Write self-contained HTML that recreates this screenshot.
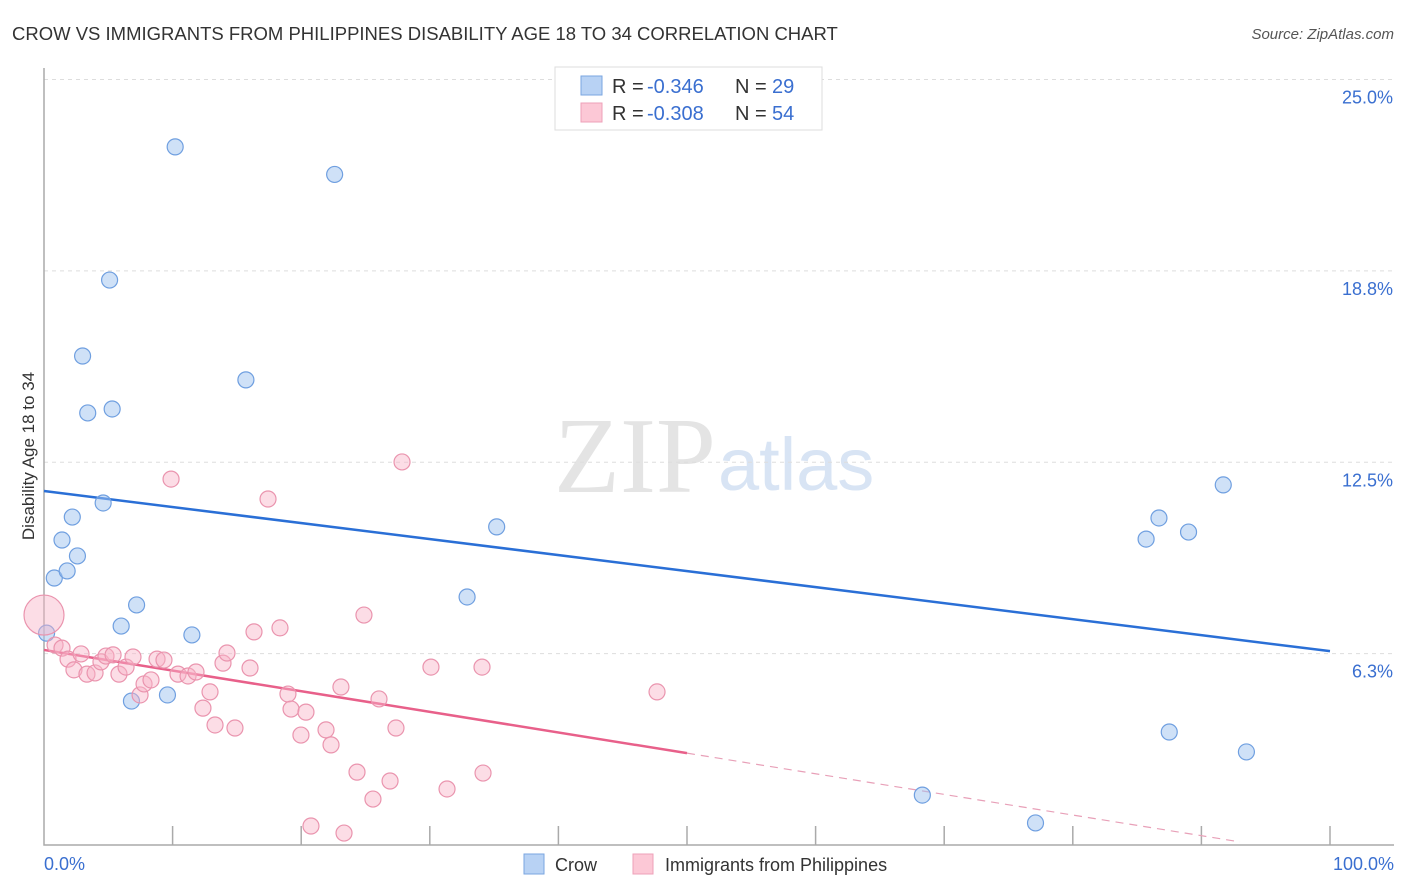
<!DOCTYPE html>
<html><head><meta charset="utf-8"><style>
body{margin:0;background:#fff;font-family:"Liberation Sans",sans-serif}
#wrap{position:relative;width:1406px;height:892px;overflow:hidden}
</style></head><body>
<div id="wrap">
<svg id="svg" width="1406" height="892" xmlns="http://www.w3.org/2000/svg">
<text x="12" y="40" font-size="18.5" fill="#333">CROW VS IMMIGRANTS FROM PHILIPPINES DISABILITY AGE 18 TO 34 CORRELATION CHART</text>
<text x="1394" y="39" font-size="15" fill="#555" font-style="italic" text-anchor="end">Source: ZipAtlas.com</text>
<text x="0" y="0" transform="translate(34,456) rotate(-90)" font-size="17" fill="#333" text-anchor="middle">Disability Age 18 to 34</text>
<text x="716" y="492" font-size="108" fill="#e4e4e4" text-anchor="end" font-family="Liberation Serif,serif">ZIP</text>
<text x="718" y="490" font-size="74" fill="#d8e4f4">atlas</text>
<g id="grid"></g><g id="axes"></g><g id="lines"></g><g id="pts"></g>
<g>
<rect x="555" y="67" width="267" height="63" fill="#fff" stroke="#ddd"/>
<rect x="581" y="76" width="21" height="19" fill="#b8d2f4" stroke="#7aa6e0"/>
<rect x="581" y="103" width="21" height="19" fill="#fcc8d6" stroke="#eea0b8"/>
<g font-size="20">
<text x="612" y="93" fill="#333">R =</text><text x="647" y="93" fill="#3a6fd0">-0.346</text>
<text x="735" y="93" fill="#333">N =</text><text x="772" y="93" fill="#3a6fd0">29</text></g>
<g font-size="20">
<text x="612" y="120" fill="#333">R =</text><text x="647" y="120" fill="#3a6fd0">-0.308</text>
<text x="735" y="120" fill="#333">N =</text><text x="772" y="120" fill="#3a6fd0">54</text></g>
</g>
<text x="44" y="870" font-size="18" fill="#3a6fd0">0.0%</text>
<text x="1394" y="870" font-size="18" fill="#3a6fd0" text-anchor="end">100.0%</text>
<g>
<rect x="524" y="854" width="20" height="20" fill="#b8d2f4" stroke="#7aa6e0"/>
<text x="555" y="871" font-size="18" fill="#333">Crow</text>
<rect x="633" y="854" width="20" height="20" fill="#fcc8d6" stroke="#eea0b8"/>
<text x="665" y="871" font-size="18" fill="#333">Immigrants from Philippines</text>
</g>
</svg></div>
<script>
const yTicks=[6.25,12.5,18.75,25];
const yTickLabels=["6.3%","12.5%","18.8%","25.0%"];
const xTicks=[10,20,30,40,50,60,70,80,90,100];
const crowX=[10.2,22.6,5.1,3.0,15.7,3.4,5.3,4.6,2.2,1.4,2.6,0.8,1.8,7.2,6.0,0.2,11.5,6.8,9.6,35.2,32.9,86.7,85.7,89.0,91.7,87.5,93.5,68.3,77.1];
const crowY=[22.8,21.9,18.45,15.97,15.19,14.11,14.24,11.17,10.71,9.96,9.44,8.72,8.95,7.84,7.15,6.92,6.86,4.70,4.90,10.39,8.10,10.68,9.99,10.22,11.76,3.69,3.04,1.63,0.72];
const phX=[0,0.86,1.40,1.87,2.33,2.88,3.34,3.97,4.43,4.82,5.37,5.83,6.38,6.92,7.47,7.78,8.32,8.79,9.33,9.88,10.42,11.20,11.82,12.36,12.91,13.30,13.92,14.23,14.85,16.02,16.33,17.42,18.35,18.97,19.21,19.98,20.37,20.76,21.93,22.32,23.09,23.33,24.34,24.88,25.58,26.05,26.91,27.37,27.84,30.09,31.34,34.06,34.14,47.67];
const phY=[7.51,6.53,6.43,6.07,5.72,6.24,5.58,5.62,5.98,6.17,6.21,5.58,5.81,6.14,4.90,5.26,5.39,6.07,6.04,11.95,5.58,5.52,5.65,4.47,5.00,3.92,5.94,6.27,3.82,5.78,6.96,11.30,7.09,4.93,4.44,3.59,4.34,0.62,3.76,3.27,5.16,0.39,2.38,7.51,1.50,4.77,2.09,3.82,12.51,5.81,1.83,5.81,2.35,5.00];
const crowTrend=[11.56,-0.0523];
const phTrend=[6.37,-0.0674];
const phSolidEnd=50, phDashEnd=93;

const X=v=>44+v*12.86, Y=v=>845-v*30.62;
const NS="http://www.w3.org/2000/svg";
function mk(tag,attrs,parent){const e=document.createElementNS(NS,tag);for(const k in attrs)e.setAttribute(k,attrs[k]);document.getElementById(parent).appendChild(e);return e;}
yTicks.forEach((t,i)=>{
 const l=mk('line',{x1:44,x2:1394,y1:Y(t),y2:Y(t),stroke:'#ddd','stroke-dasharray':'4,4'},'grid');
 
 
 const tx=mk('text',{x:1393,y:Y(t)+24,'font-size':18,fill:'#3a6fd0','text-anchor':'end'},'grid');
 tx.textContent=yTickLabels[i];
 
 
});
const ax=mk('path',{d:`M44,68V845H1394`,stroke:'#aaa','stroke-width':1.5,fill:'none'},'axes');


xTicks.forEach(t=>{
 const l=mk('line',{x1:X(t),x2:X(t),y1:826,y2:845,stroke:'#aaa','stroke-width':1.5},'axes');
 
 
});
crowX.forEach((x,i)=>{
 const c=mk('circle',{cx:X(x),cy:Y(crowY[i]),r:8,fill:'rgba(160,196,240,0.5)',stroke:'#6f9fe0','stroke-width':1.2},'pts');
 
 
});
phX.forEach((x,i)=>{
 const c=mk('circle',{cx:X(x),cy:Y(phY[i]),r:i===0?20:8,fill:'rgba(248,180,200,0.45)',stroke:'#ea94ae','stroke-width':1.2},'pts');
 
 
});
const cl=mk('line',{x1:X(0),y1:Y(crowTrend[0]),x2:X(100),y2:Y(crowTrend[0]+crowTrend[1]*100),stroke:'#2a6fd6','stroke-width':2.5},'lines');


const pl=mk('line',{x1:X(0),y1:Y(phTrend[0]),x2:X(phSolidEnd),y2:Y(phTrend[0]+phTrend[1]*phSolidEnd),stroke:'#e8608a','stroke-width':2.5},'lines');


const pd=mk('line',{x1:X(phSolidEnd),y1:Y(phTrend[0]+phTrend[1]*phSolidEnd),x2:X(phDashEnd),y2:Y(phTrend[0]+phTrend[1]*phDashEnd),stroke:'#e8a0b8','stroke-width':1.2,'stroke-dasharray':'8,6'},'lines');


</script>
</body></html>
